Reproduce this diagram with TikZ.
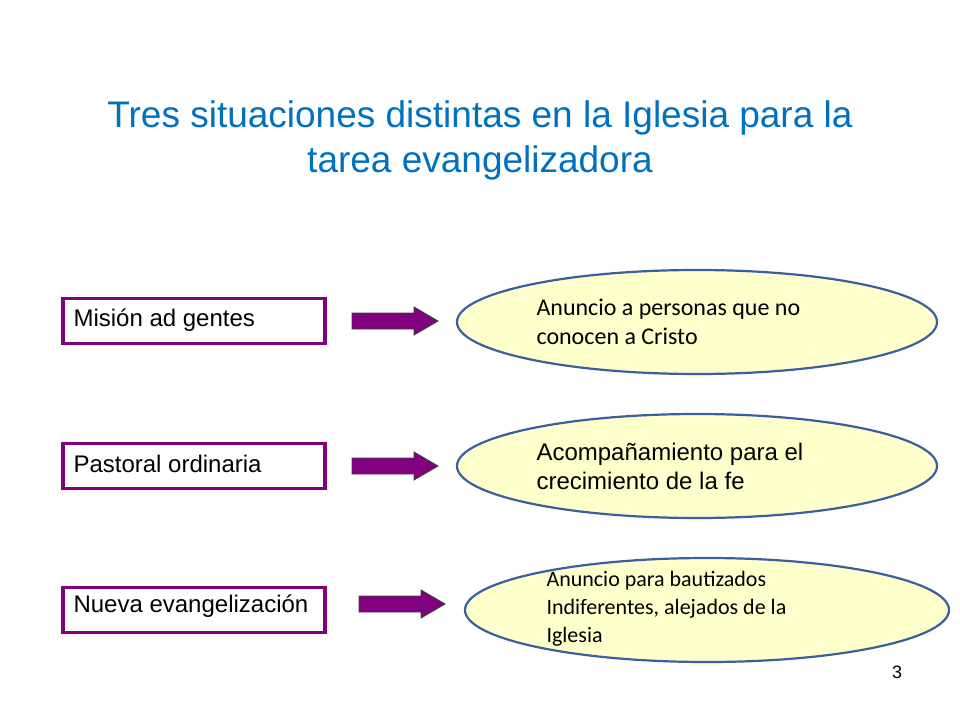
\documentclass[tikz,border=0pt]{standalone}
\usepackage{fontspec}
\setmainfont{Liberation Sans}
\newfontfamily\calfnt{Carlito}
\usetikzlibrary{shapes.geometric}
\definecolor{pur}{HTML}{800080}
\definecolor{ttl}{HTML}{0070C0}
\definecolor{ebd}{HTML}{3A5F9F}
\definecolor{efl}{HTML}{FFFFCC}
\tikzset{
 lbox/.style={draw=pur,line width=3.5pt,minimum width=262pt,minimum height=45pt,inner sep=0pt},
 ell/.style={ellipse,draw=ebd,fill=efl,line width=2.2pt,minimum width=480pt,minimum height=104pt},
 arr/.style={draw=black!75,fill=pur,line width=0.9pt,line join=miter},
 ltxt/.style={anchor=west,font=\fontsize{24}{28}\selectfont,text=black},
}
\newcommand{\purarrow}[3]{%
 \coordinate (#3) at (#1,#2);
 \draw[arr] (#1,#2-8) -- ++(62,0) -- ++(0,-6) -- ++(24,14) -- ++(-24,14) -- ++(0,-6) -- ++(-62,0) -- cycle;}
\begin{document}
\begin{tikzpicture}[x=1pt,y=-1pt]
\useasboundingbox (0,0) rectangle (960,720);
\node[font=\fontsize{37}{45}\selectfont,text=ttl,align=center] (t) at (480,140) {Tres situaciones distintas en la Iglesia para la\\tarea evangelizadora};
\node[lbox] (b1) at (194,321) {};
\node[lbox] (b2) at (194,466) {};
\node[lbox] (b3) at (194,610) {};
\node[ltxt] at (70,320) {Misión ad gentes};
\node[ltxt] at (70,464) {Pastoral ordinaria};
\node[ltxt] at (70,606) {Nueva evangelización};
\purarrow{352}{321}{a1}
\purarrow{352}{466}{a2}
\purarrow{359}{604}{a3}
\node[ell] (e1) at (697,322) {};
\node[ell] (e2) at (697,466) {};
\node[ell,minimum width=484pt] (e3) at (707,610) {};
\node[anchor=west,font=\calfnt\fontsize{24}{29}\selectfont,align=left] at (533,322) {Anuncio a personas que no\\conocen a Cristo};
\node[anchor=west,font=\fontsize{24}{29}\selectfont,align=left] at (533,466) {Acompañamiento para el\\crecimiento de la fe};
\node[anchor=west,font=\calfnt\fontsize{22}{28}\selectfont,align=left] at (543,609) {Anuncio para bautizados\\Indiferentes, alejados de la\\Iglesia};
\node[font=\fontsize{18}{20}\selectfont] (n) at (897,672) {3};
\end{tikzpicture}
\end{document}
